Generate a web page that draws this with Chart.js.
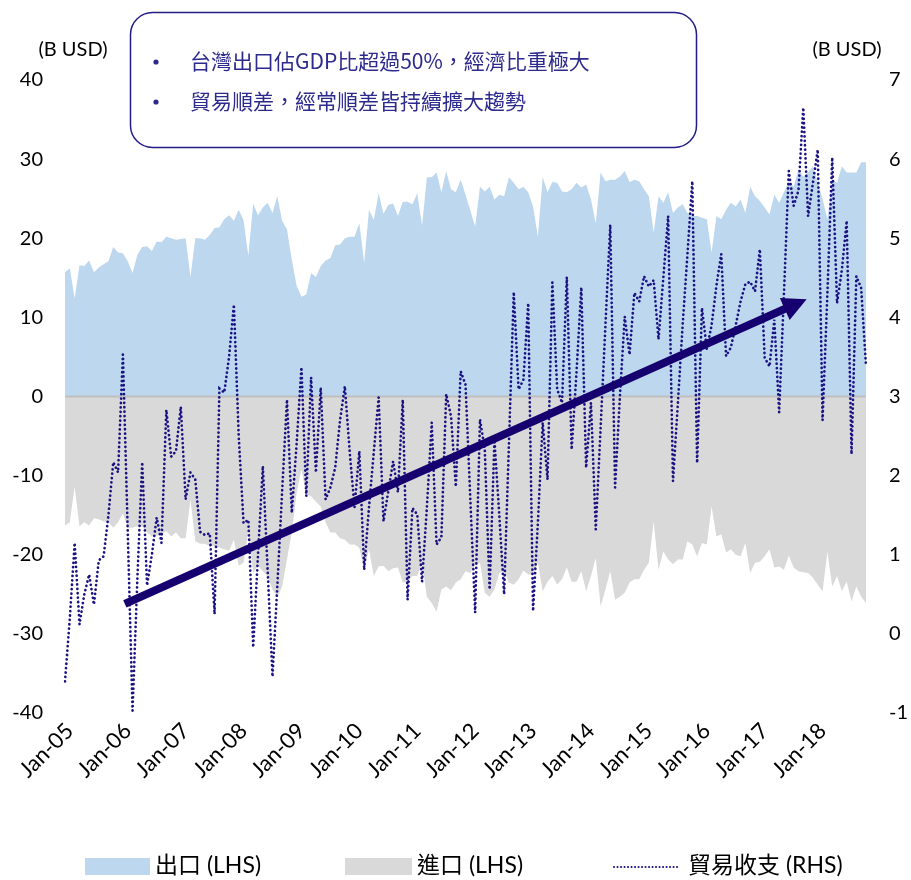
<!DOCTYPE html>
<html>
<head>
<meta charset="utf-8">
<script src="https://cdn.jsdelivr.net/npm/chart.js@4.4.1/dist/chart.umd.min.js"></script>
<style>
  html, body { margin: 0; padding: 0; background: #ffffff; }
  #wrap { width: 911px; height: 880px; position: relative; }
</style>
</head>
<body>
<div id="wrap"><canvas id="chart" width="911" height="880"></canvas></div>
<script>
// Monthly series, Dec-04 .. Oct-18 (B USD)
const exportsLHS = [
  15.7,16.2,12.4,16.6,16.5,17.2,15.7,16.3,16.7,17.1,
  18.9,18.2,18.1,17.1,15.6,17.9,18.9,19.0,18.4,19.6,
  19.5,20.2,20.0,19.8,19.9,20.0,15.1,20.0,20.0,19.8,
  20.4,21.3,21.4,22.4,22.9,22.2,23.6,22.3,17.8,24.4,
  22.9,23.9,24.5,23.2,25.3,22.2,21.1,17.3,14.0,12.6,
  12.9,15.6,15.1,16.5,17.2,17.5,19.1,19.2,20.0,20.2,
  20.2,21.9,16.9,23.6,22.3,25.7,23.1,24.2,24.4,22.8,
  24.6,24.6,24.3,25.7,21.6,27.7,27.7,28.3,25.8,28.5,
  26.2,25.8,27.4,25.5,23.5,21.5,26.5,25.9,26.5,24.9,
  25.5,25.3,27.7,27.0,26.2,26.5,25.8,24.0,20.2,27.7,
  25.8,27.1,27.0,25.9,25.8,26.2,27.0,26.4,26.8,24.9,
  21.9,28.3,27.2,27.4,27.4,27.8,28.5,27.1,27.4,27.2,
  26.2,25.3,20.7,25.3,24.5,25.8,23.2,23.9,24.3,23.2,
  22.8,22.8,22.6,22.4,18.2,22.8,22.4,23.6,24.5,24.0,
  24.9,23.2,26.5,25.3,24.7,23.9,23.0,25.5,24.5,25.8,
  27.2,26.5,28.7,27.8,28.3,29.1,27.0,25.0,22.4,27.4,
  27.0,29.1,28.3,28.3,28.3,29.6,29.6
];

const importsLHS = [
  -16.3,-15.9,-11.4,-16.4,-15.9,-16.3,-15.4,-15.5,-15.8,-15.9,
  -16.6,-15.9,-14.8,-16.6,-16.6,-16.4,-16.4,-17.2,-17.7,-17.6,
  -17.4,-17.0,-17.7,-17.2,-17.9,-17.9,-13.0,-18.3,-18.6,-18.6,
  -18.9,-18.9,-19.1,-19.3,-19.5,-18.1,-21.4,-21.0,-17.0,-22.3,
  -21.4,-22.1,-22.7,-24.4,-25.4,-24.0,-20.6,-17.2,-12.2,-9.2,
  -12.4,-12.6,-13.3,-13.9,-15.9,-17.2,-17.2,-17.9,-18.1,-18.7,
  -18.7,-19.1,-21.9,-19.3,-22.7,-21.5,-21.4,-22.1,-21.7,-21.6,
  -23.5,-23.4,-22.7,-22.7,-21.0,-25.3,-26.1,-27.2,-24.4,-24.0,
  -24.5,-23.5,-23.1,-22.1,-22.3,-21.2,-21.0,-24.8,-25.3,-24.4,
  -22.3,-22.1,-23.5,-23.8,-23.1,-22.0,-22.5,-22.5,-21.0,-24.6,
  -23.4,-22.7,-23.8,-23.1,-21.6,-23.4,-23.4,-22.1,-24.6,-22.7,
  -20.4,-26.5,-24.4,-22.1,-25.7,-25.3,-24.8,-23.5,-23.1,-23.1,
  -21.9,-21.0,-15.8,-21.9,-19.6,-20.6,-21.2,-20.6,-20.6,-18.3,
  -18.7,-20.2,-18.5,-18.7,-13.9,-17.7,-17.4,-19.7,-19.3,-20.0,
  -20.2,-18.5,-22.3,-21.0,-20.9,-20.2,-19.3,-21.6,-21.5,-21.9,
  -20.1,-21.6,-22.1,-22.2,-22.3,-22.9,-23.8,-24.6,-19.6,-24.0,
  -22.7,-24.6,-23.4,-25.9,-24.0,-25.3,-26.1
];

const balanceRHS = [
  -0.60,0.20,1.15,0.12,0.50,0.75,0.37,0.93,0.98,1.50,
  2.17,2.04,3.53,1.30,-0.97,0.70,2.17,0.61,1.00,1.47,
  1.15,2.83,2.24,2.31,2.87,1.70,2.04,1.95,1.29,1.25,
  1.27,0.25,3.10,3.05,3.50,4.16,2.50,1.40,1.44,-0.17,
  1.00,2.12,0.80,-0.54,0.60,1.80,2.96,1.53,2.40,3.37,
  1.74,3.24,2.04,3.11,1.70,1.85,2.10,2.70,3.13,2.30,
  1.60,2.31,0.81,1.60,2.30,2.99,1.42,1.80,2.18,1.79,
  2.96,0.43,1.59,1.51,0.66,1.60,2.67,1.13,1.22,3.03,
  2.75,1.86,3.32,3.15,1.70,0.27,2.71,2.33,0.56,2.45,
  1.50,0.50,2.40,4.32,3.09,3.21,4.18,0.29,1.40,2.67,
  1.95,4.44,3.09,2.92,4.51,2.33,3.30,4.38,2.10,2.92,
  1.32,2.60,3.90,5.17,1.85,3.00,4.01,3.53,4.31,4.20,
  4.52,4.39,4.47,3.72,4.50,5.28,1.93,2.90,3.90,4.80,
  5.72,2.16,4.12,3.60,3.90,4.40,4.80,3.51,3.62,3.90,
  4.20,4.42,4.45,4.33,4.86,3.49,3.38,3.97,2.80,4.30,
  5.85,5.41,5.60,6.65,5.28,5.70,6.12,2.70,4.30,6.02,
  4.18,4.60,5.22,2.27,4.52,4.37,3.38
];

// Category labels: one per month, starting Dec-04
const monthNames = ['Jan','Feb','Mar','Apr','May','Jun','Jul','Aug','Sep','Oct','Nov','Dec'];
const firstYear = 2004, firstMonth = 11;
const monthLabels = exportsLHS.map((_, i) => {
  const m = (firstMonth + i) % 12;
  const y = firstYear + Math.floor((firstMonth + i) / 12);
  return monthNames[m] + '-' + String(y % 100).padStart(2, '0');
});

// Axis ranges and tick labels
const leftTicks = [-40, -30, -20, -10, 0, 10, 20, 30, 40];
const rightTicks = [-1, 0, 1, 2, 3, 4, 5, 6, 7];
const axisUnit = '(B USD)';

// Series names
const seriesNames = ['出口 (LHS)', '進口 (LHS)', '貿易收支 (RHS)'];

// Note box text
const noteLines = ['台灣出口佔GDP比超過50%，經濟比重極大', '貿易順差，經常順差皆持續擴大趨勢'];

// Trend arrow in data units: [month index, left-axis value]
const trendFrom = [12.4, -26.2];
const trendTo = [153.7, 12.3];

const NAVY = '#1a1282';
const ARROW = '#16006f';
const BLUE = '#bdd7ee';
const GRAY = '#d9d9d9';
const TICK_FONT = { family: 'Lato, "Noto Sans CJK TC", sans-serif', size: 20 };
const X_FONT = { family: 'Lato, sans-serif', size: 22 };

const overlay = {
  id: 'overlay',
  afterDatasetDraw(chart, args) {
    // zero line between the two filled areas, under the balance line
    if (args.index !== 1) return;
    const { ctx, chartArea } = chart;
    const y0 = chart.scales.y.getPixelForValue(0);
    ctx.save();
    ctx.strokeStyle = '#bfbfbf';
    ctx.lineWidth = 2;
    ctx.beginPath();
    ctx.moveTo(chartArea.left, y0);
    ctx.lineTo(chartArea.right, y0);
    ctx.stroke();
    ctx.restore();
  },
  afterDatasetsDraw(chart) {
    const { ctx } = chart;
    const xs = chart.scales.x, ys = chart.scales.y;
    const x1 = xs.getPixelForValue(trendFrom[0]), y1 = ys.getPixelForValue(trendFrom[1]);
    const x2 = xs.getPixelForValue(trendTo[0]), y2 = ys.getPixelForValue(trendTo[1]);
    const ang = Math.atan2(y2 - y1, x2 - x1);
    const headLen = 24, headHalf = 12;
    const bx = x2 - headLen * Math.cos(ang), by = y2 - headLen * Math.sin(ang);
    ctx.save();
    ctx.strokeStyle = ARROW;
    ctx.fillStyle = ARROW;
    ctx.lineWidth = 8;
    ctx.lineCap = 'butt';
    ctx.beginPath();
    ctx.moveTo(x1, y1);
    ctx.lineTo(bx + 2 * Math.cos(ang), by + 2 * Math.sin(ang));
    ctx.stroke();
    ctx.beginPath();
    ctx.moveTo(x2, y2);
    ctx.lineTo(bx - headHalf * Math.sin(ang), by + headHalf * Math.cos(ang));
    ctx.lineTo(bx + headHalf * Math.sin(ang), by - headHalf * Math.cos(ang));
    ctx.closePath();
    ctx.fill();
    ctx.restore();
  },
  afterDraw(chart) {
    const { ctx } = chart;
    ctx.save();

    // axis unit captions
    ctx.fillStyle = '#000';
    ctx.font = '20px Lato, sans-serif';
    ctx.textAlign = 'center';
    ctx.textBaseline = 'middle';
    ctx.fillText(axisUnit, 73, 50);
    ctx.fillText(axisUnit, 847, 50);

    // note box
    const bx = 130.5, by = 12.5, bw = 566, bh = 135, r = 22;
    ctx.beginPath();
    ctx.moveTo(bx + r, by);
    ctx.lineTo(bx + bw - r, by);
    ctx.arcTo(bx + bw, by, bx + bw, by + r, r);
    ctx.lineTo(bx + bw, by + bh - r);
    ctx.arcTo(bx + bw, by + bh, bx + bw - r, by + bh, r);
    ctx.lineTo(bx + r, by + bh);
    ctx.arcTo(bx, by + bh, bx, by + bh - r, r);
    ctx.lineTo(bx, by + r);
    ctx.arcTo(bx, by, bx + r, by, r);
    ctx.closePath();
    ctx.fillStyle = '#ffffff';
    ctx.fill();
    ctx.strokeStyle = '#231c86';
    ctx.lineWidth = 1.5;
    ctx.stroke();

    ctx.fillStyle = '#2d2a8e';
    ctx.font = '21px "Noto Sans CJK TC", sans-serif';
    ctx.textAlign = 'left';
    ctx.textBaseline = 'middle';
    noteLines.forEach((t, i) => {
      const ly = 61 + i * 40;
      ctx.beginPath();
      ctx.arc(156, ly + 1, 2.6, 0, Math.PI * 2);
      ctx.fill();
      ctx.fillText(t, 190, ly);
    });

    // legend
    const ly = 866;
    ctx.font = '23px Lato, "Noto Sans CJK TC", sans-serif';
    ctx.textBaseline = 'middle';
    ctx.fillStyle = BLUE;
    ctx.fillRect(85, ly - 8, 65, 17);
    ctx.fillStyle = GRAY;
    ctx.fillRect(345, ly - 8, 67, 17);
    ctx.strokeStyle = NAVY;
    ctx.lineWidth = 2;
    ctx.lineCap = 'round';
    ctx.setLineDash([0.1, 3.4]);
    ctx.beginPath();
    ctx.moveTo(614, ly + 1);
    ctx.lineTo(680, ly + 1);
    ctx.stroke();
    ctx.setLineDash([]);
    ctx.fillStyle = '#000';
    ctx.fillText(seriesNames[0], 155, ly);
    ctx.fillText(seriesNames[1], 417, ly);
    ctx.fillText(seriesNames[2], 688, ly);

    ctx.restore();
  }
};

new Chart(document.getElementById('chart'), {
  type: 'line',
  data: {
    labels: monthLabels,
    datasets: [
      {
        label: seriesNames[2],
        data: balanceRHS,
        yAxisID: 'y2',
        borderColor: NAVY,
        borderWidth: 2.7,
        borderDash: [0.1, 4.3],
        borderCapStyle: 'round',
        pointRadius: 0,
        fill: false,
        tension: 0
      },
      {
        label: seriesNames[0],
        data: exportsLHS,
        yAxisID: 'y',
        backgroundColor: BLUE,
        borderWidth: 0,
        borderColor: 'rgba(0,0,0,0)',
        pointRadius: 0,
        fill: 'origin',
        tension: 0
      },
      {
        label: seriesNames[1],
        data: importsLHS,
        yAxisID: 'y',
        backgroundColor: GRAY,
        borderWidth: 0,
        borderColor: 'rgba(0,0,0,0)',
        pointRadius: 0,
        fill: 'origin',
        tension: 0
      }
    ]
  },
  options: {
    responsive: false,
    animation: false,
    devicePixelRatio: 1,
    layout: { padding: { top: 80, left: 0, right: 0, bottom: 0 } },
    plugins: {
      legend: { display: false },
      tooltip: { enabled: false }
    },
    scales: {
      x: {
        type: 'category',
        offset: false,
        grid: { display: false, drawTicks: false },
        border: { display: false },
        ticks: {
          autoSkip: false,
          minRotation: 45,
          maxRotation: 45,
          padding: 5,
          color: '#000',
          font: X_FONT,
          callback: function (v) {
            const l = this.getLabelForValue(v);
            return l.startsWith('Jan') ? l : '';
          }
        },
        afterFit: (s) => { s.height = 167; }
      },
      y: {
        position: 'left',
        min: leftTicks[0],
        max: leftTicks[leftTicks.length - 1],
        grid: { display: false, drawTicks: false },
        border: { display: false },
        afterBuildTicks: (s) => { s.ticks = leftTicks.map(v => ({ value: v })); },
        ticks: { padding: 22, color: '#000', font: TICK_FONT },
        afterFit: (s) => { s.width = 65; }
      },
      y2: {
        position: 'right',
        min: rightTicks[0],
        max: rightTicks[rightTicks.length - 1],
        grid: { display: false, drawTicks: false },
        border: { display: false },
        afterBuildTicks: (s) => { s.ticks = rightTicks.map(v => ({ value: v })); },
        ticks: { padding: 23, color: '#000', font: TICK_FONT },
        afterFit: (s) => { s.width = 45; }
      }
    }
  },
  plugins: [overlay]
});
</script>
</body>
</html>
